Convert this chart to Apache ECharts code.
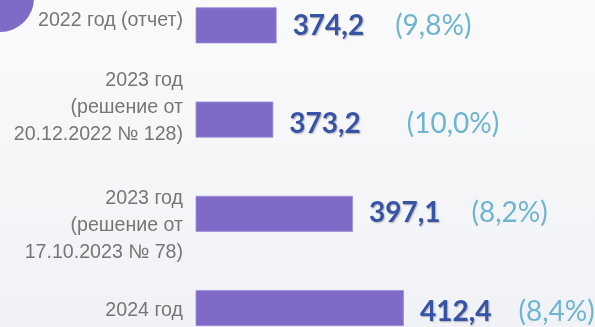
<!DOCTYPE html>
<html>
<head>
<meta charset="utf-8">
<style>
  html, body { margin: 0; padding: 0; }
  #chart { width: 595px; height: 327px; }
</style>
<script src="https://cdn.jsdelivr.net/npm/echarts@6/dist/echarts.min.js"></script>
</head>
<body>
<div id="chart"></div>
<script>
// Расходы бюджета по годам, млн руб., и доля в общем объёме
const categories = [
  '2022 год (отчет)',
  '2023 год\n(решение от\n20.12.2022 № 128)',
  '2023 год\n(решение от\n17.10.2023 № 78)',
  '2024 год'
];
const amounts = [374.2, 373.2, 397.1, 412.4];
const shares = [9.8, 10.0, 8.2, 8.4];

// layout tweaks per row
const catShift = [-5, -11.5, 11.5, 3];    // vertical shift of category text, px
const shareGap = [31, 46, 31, 27];        // gap between amount and share, px
const valueShift = [0.5, 4, -1, 3.5];     // vertical shift of value labels, px

const BAR = '#7F6AC7';
const fmt = v => v.toFixed(1).replace('.', ',');

const catRich = {
  c: {
    fontFamily: 'Liberation Sans, Arial, sans-serif',
    fontSize: 19.6,
    lineHeight: 27,
    color: '#767676',
    align: 'right'
  }
};
catShift.forEach((s, i) => {
  catRich['s' + i] = { fontSize: 1, lineHeight: Math.max(1, Math.abs(s) * 2) };
});

const valRich = {
  v: {
    fontFamily: 'Lato, sans-serif',
    fontWeight: 'bold',
    fontSize: 28,
    color: '#3753A8',
    textShadowColor: 'rgba(0,0,0,0.28)',
    textShadowBlur: 1.5,
    textShadowOffsetX: 1,
    textShadowOffsetY: 1.5
  }
};
shareGap.forEach((g, i) => {
  valRich['p' + i] = {
    fontFamily: 'Lato, sans-serif',
    fontSize: 28,
    color: '#6DB5D0',
    padding: [0, 0, 0, g]
  };
});

const chart = echarts.init(document.getElementById('chart'), null, { renderer: 'canvas' });

chart.setOption({
  animation: false,
  backgroundColor: new echarts.graphic.LinearGradient(0, 0, 0, 1, [
    { offset: 0, color: '#FAFAFB' },
    { offset: 1, color: '#F1F2F6' }
  ]),
  graphic: [{
    type: 'circle',
    shape: { cx: 0, cy: -2, r: 34 },
    style: { fill: BAR },
    z: 1
  }],
  grid: {
    left: 196,
    width: 366.5,
    top: -21.8,
    bottom: -28.2,
    containLabel: false,
    outerBoundsMode: 'none'
  },
  xAxis: {
    type: 'value',
    min: 350,
    max: 460,
    show: false
  },
  yAxis: {
    type: 'category',
    inverse: true,
    data: categories,
    axisLine: { show: false },
    axisTick: { show: false },
    splitLine: { show: false },
    axisLabel: {
      margin: 13,
      interval: 0,
      formatter: (value, index) => {
        const body = value.split('\n').map(l => '{c|' + l + '}').join('\n');
        const s = catShift[index];
        if (s < 0) return body + '\n{s' + index + '| }';
        if (s > 0) return '{s' + index + '| }\n' + body;
        return body;
      },
      rich: catRich
    }
  },
  series: [{
    type: 'bar',
    barWidth: 36,
    itemStyle: { color: BAR, borderColor: '#9C8FD8', borderWidth: 0.8 },
    data: amounts.map((v, i) => ({
      value: v,
      label: { offset: [0, valueShift[i]] }
    })),
    label: {
      show: true,
      position: 'right',
      distance: 16,
      formatter: p => '{v|' + fmt(p.value) + '}{p' + p.dataIndex + '|(' + fmt(shares[p.dataIndex]) + '%)}',
      rich: valRich
    }
  }]
});
</script>
</body>
</html>
